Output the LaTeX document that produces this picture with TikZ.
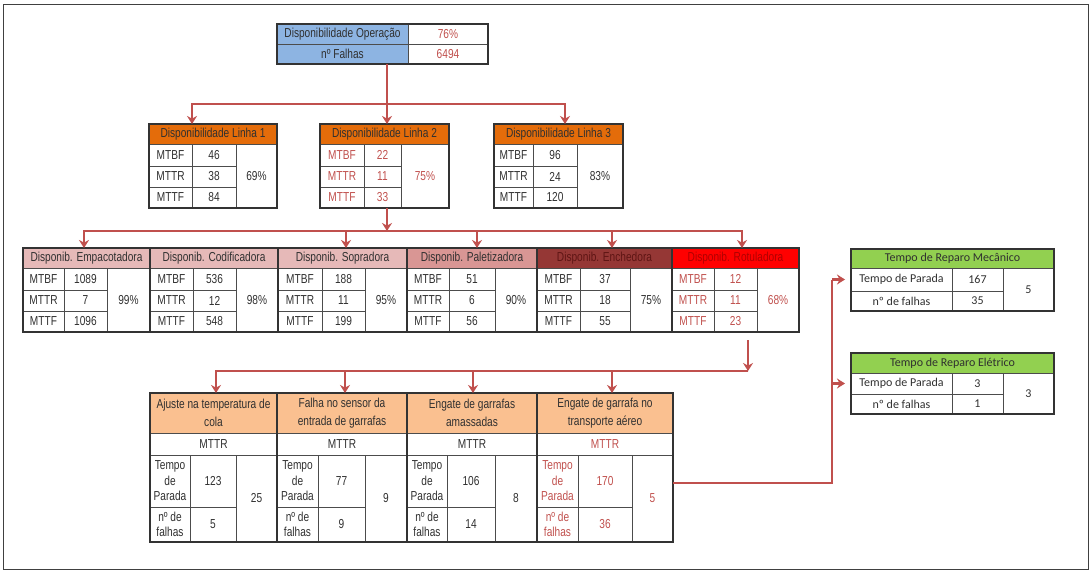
\documentclass[tikz,border=0pt]{standalone}
\usepackage{fontspec}
\setmainfont{Liberation Sans}[FakeStretch=0.78]
\newfontfamily\calfont{Carlito}
\usetikzlibrary{arrows.meta,calc}
\definecolor{arrc}{HTML}{C0504D}
\definecolor{redt}{HTML}{C0504D}
\definecolor{blueH}{HTML}{8DB4E2}
\definecolor{orangeL}{HTML}{E46C0A}
\definecolor{pinkA}{HTML}{E6B9B8}
\definecolor{pinkB}{HTML}{D99694}
\definecolor{darkR}{HTML}{953735}
\definecolor{darkRt}{HTML}{5E1514}
\definecolor{brightR}{HTML}{FF0000}
\definecolor{brightRt}{HTML}{B00000}
\definecolor{peach}{HTML}{FAC090}
\definecolor{greenH}{HTML}{92D050}
\definecolor{txt}{HTML}{303030}
\tikzset{
  cellbox/.style={draw=black!70, line width=0.6pt, inner sep=0pt, outer sep=0pt,
    align=center, text=txt, font=\fontsize{13}{15.5}\selectfont},
  tabframe/.style={draw=black!80, line width=1.1pt},
  conn/.style={draw=arrc, line width=2.2pt},
  arr/.style={conn, -{Stealth[length=8pt,width=10pt]}},
  redcell/.style={text=redt},
  hdr2/.style={font=\fontsize{13}{17.5}\selectfont},
  calcell/.style={font=\calfont\fontsize{12}{14}\selectfont},
}
\newcommand\cel[7][]{\node[cellbox,minimum width={(#4-#2)*1pt},minimum height={(#5-#3)*1pt},#1] (#6) at ({(#2+#4)/2},{(#3+#5)/2}) {#7};}
\def\mySplitD#1/#2/#3/#4\relax{\def\vA{#1}\def\vB{#2}\def\vC{#3}\def\vD{#4}}
\def\mySplitC#1/#2/#3\relax{\def\vA{#1}\def\vB{#2}\def\vC{#3}}
% MTBF/MTTR/MTTF table
\newcommand\mtab[9][]{%
  \mySplitD#9\relax
  \cel[#7]{#3}{\ya}{#6}{\yb}{#2h}{#8}
  \cel[#1]{#3}{\yb}{#4}{\yc}{#2l1}{MTBF}
  \cel[#1]{#4}{\yb}{#5}{\yc}{#2v1}{\vA}
  \cel[#1]{#3}{\yc}{#4}{\yd}{#2l2}{MTTR}
  \cel[#1]{#4}{\yc}{#5}{\yd}{#2v2}{\vB}
  \cel[#1]{#3}{\yd}{#4}{\ye}{#2l3}{MTTF}
  \cel[#1]{#4}{\yd}{#5}{\ye}{#2v3}{\vC}
  \cel[#1]{#5}{\yb}{#6}{\ye}{#2p}{\vD}
  \draw[tabframe] (#2h.north west) rectangle (#2p.south east);
}
% failure-mode table
\newcommand\btab[8][]{%
  \mySplitC#8\relax
  \cel[fill=peach,hdr2]{#3}{\ya}{#6}{\yb}{#2h}{#7}
  \cel[#1]{#3}{\yb}{#6}{\yc}{#2m}{MTTR}
  \cel[#1]{#3}{\yc}{#4}{\yd}{#2l1}{Tempo\\de\\Parada}
  \cel[#1]{#4}{\yc}{#5}{\yd}{#2v1}{\vA}
  \cel[#1]{#3}{\yd}{#4}{\ye}{#2l2}{nº de\\falhas}
  \cel[#1]{#4}{\yd}{#5}{\ye}{#2v2}{\vB}
  \cel[#1]{#5}{\yc}{#6}{\ye}{#2r}{\vC}
  \draw[tabframe] (#2h.north west) rectangle (#2r.south east);
}
% repair-time table
\newcommand\rtab[6]{%
  \mySplitC#6\relax
  \cel[calcell,fill=greenH]{851}{#2}{1054}{#3}{#1h}{#5}
  \cel[calcell]{851}{#3}{952}{#4}{#1t1}{Tempo de Parada}
  \cel[calcell]{952}{#3}{1003}{#4}{#1v1}{\vA}
  \cel[calcell]{851}{#4}{952}{\yz}{#1t2}{nº de falhas}
  \cel[calcell]{952}{#4}{1003}{\yz}{#1v2}{\vB}
  \cel[calcell]{1003}{#3}{1054}{\yz}{#1r}{\vC}
  \draw[tabframe] (#1h.north west) rectangle (#1r.south east);
}
\begin{document}
\begin{tikzpicture}[x=1pt,y=-1pt]
\useasboundingbox (0,0) rectangle (1092,572);
\draw[black!75, line width=1pt] (3,5) rectangle (1088,569);

% top table
\cel[fill=blueH]{277}{24}{408}{44}{tA}{Disponibilidade Operação}
\cel[redcell]{408}{24}{488}{44}{tB}{76\%}
\cel[fill=blueH]{277}{44}{408}{64}{tC}{nº Falhas}
\cel[redcell]{408}{44}{488}{64}{tD}{6494}
\draw[tabframe] (tA.north west) rectangle (tD.south east);

% line tables
\def\ya{124}\def\yb{144}\def\yc{166}\def\yd{187}\def\ye{208}
\mtab{L1}{149}{192}{236}{277}{fill=orangeL}{Disponibilidade Linha 1}{46/38/84/69\%}
\mtab[redcell]{L2}{320}{364}{401}{449}{fill=orangeL}{Disponibilidade Linha 2}{22/11/33/75\%}
\mtab{L3}{494}{533}{577}{623}{fill=orangeL}{Disponibilidade Linha 3}{96/24/120/83\%}

% equipment tables
\def\ya{248}\def\yb{268}\def\yc{290}\def\yd{311}\def\ye{332}
\mtab{E1}{23}{64}{107}{150}{fill=pinkA}{Disponib. Empacotadora}{1089/7/1096/99\%}
\mtab{E2}{150}{193}{236}{278}{fill=pinkA}{Disponib. Codificadora}{536/12/548/98\%}
\mtab{E3}{278}{322}{365}{407}{fill=pinkA}{Disponib. Sopradora}{188/11/199/95\%}
\mtab{E4}{407}{449}{495}{537}{fill=pinkB}{Disponib. Paletizadora}{51/6/56/90\%}
\mtab{E5}{537}{580}{630}{672}{fill=darkR,text=darkRt}{Disponib. Enchedora}{37/18/55/75\%}
\mtab[redcell]{E6}{672}{714}{757}{799}{fill=brightR,text=brightRt}{Disponib. Rotuladora}{12/11/23/68\%}

% failure-mode tables
\def\ya{393}\def\yb{433}\def\yc{455}\def\yd{507}\def\ye{542}
\btab{B1}{150}{190}{236}{277}{Ajuste na temperatura de\\cola}{123/5/25}
\btab{B2}{277}{318}{365}{407}{Falha no sensor da\\entrada de garrafas}{77/9/9}
\btab{B3}{407}{447}{495}{537}{Engate de garrafas\\amassadas}{106/14/8}
\btab[redcell]{B4}{537}{578}{632}{673}{Engate de garrafa no\\transporte aéreo}{170/36/5}

% repair-time tables
\def\yz{311}
\rtab{M}{249}{268}{291}{Tempo de Reparo Mecânico}{167/35/5}
\def\yz{414}
\rtab{El}{353}{373}{394}{Tempo de Reparo Elétrico}{3/1/3}

% connectors: operation -> lines
\coordinate (j1) at (387,104);
\draw[arr] (tC.south -| j1) -- (L2h.north -| j1);
\draw[arr] (j1) -| ([xshift=43]L1h.north west);
\draw[arr] (j1) -| ([xshift=71]L3h.north west);

% line 2 -> equipment
\coordinate (j2) at (387,231);
\draw[arr] (L2v3.south -| j2) -- (j2);
\draw[arr] (j2) -| ([xshift=61]E1h.north west);
\draw[arr] (j2) -| ([xshift=68]E3h.north west);
\draw[arr] (j2) -| ([xshift=70]E4h.north west);
\draw[arr] (j2) -| ([xshift=75]E5h.north west);
\draw[arr] (j2) -| ([xshift=70]E6h.north west);

% rotuladora -> failure modes
\coordinate (j3) at (748,371);
\draw[arr] ($(E6p.south -| j3)+(0,8)$) -- (j3);
\draw[arr] (j3) -| ([xshift=66]B1h.north west);
\draw[arr] (j3) -| ([xshift=68]B2h.north west);
\draw[arr] (j3) -| ([xshift=66]B3h.north west);
\draw[arr] (j3) -| ([xshift=75]B4h.north west);

% transporte aereo -> repair times
\coordinate (j4) at (832,483);
\draw[conn] (B4r.east |- j4) -- (j4) -- (j4 |- Mt1.west);
\draw[arr, shorten >=6pt] (j4 |- Mt1.west) -- (Mt1.west);
\draw[arr, shorten >=6pt] (j4 |- Elt1.west) -- (Elt1.west);
\end{tikzpicture}
\end{document}
